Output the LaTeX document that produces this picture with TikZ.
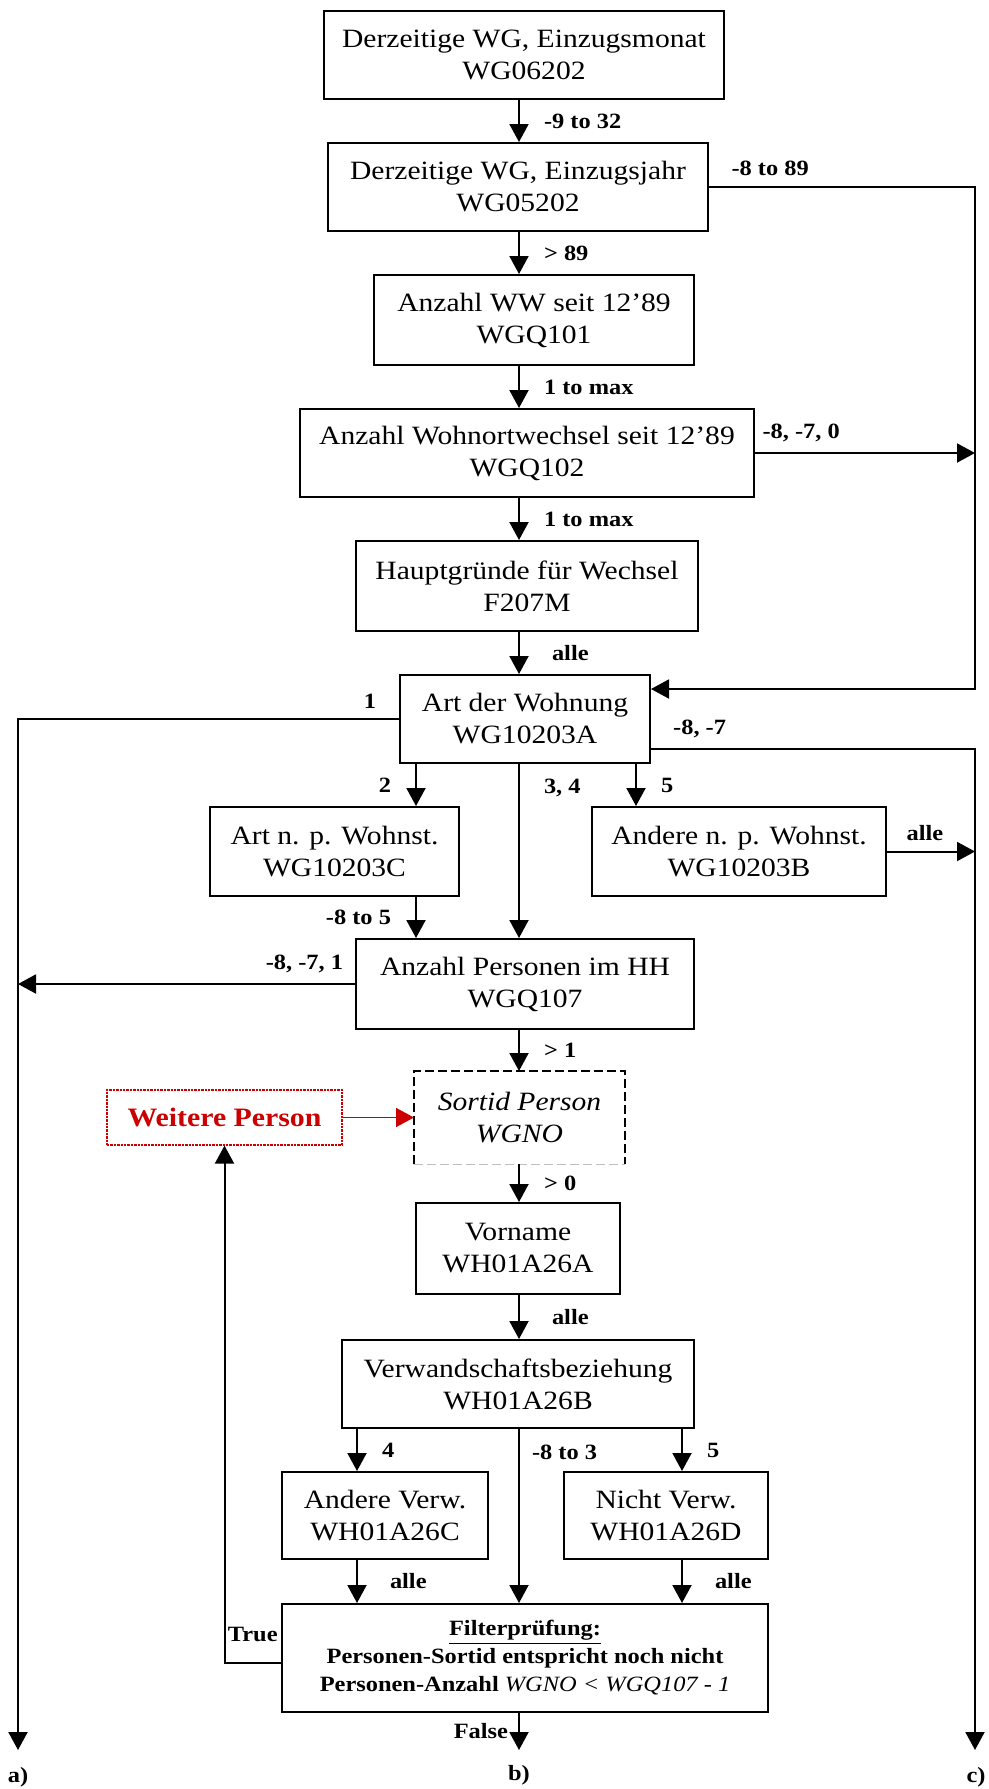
\documentclass[tikz,border=0pt]{standalone}
\usepackage{fontspec}
\setmainfont{Liberation Serif}[FakeStretch=1.12]
\usepackage{tikz}
\usetikzlibrary{arrows.meta}
\usetikzlibrary{calc}
\definecolor{wred}{RGB}{204,0,0}
\newcommand{\boxfont}{\fontsize{13.2}{16}\selectfont}
\newcommand{\lblfont}{\fontsize{10.9}{14}\selectfont\bfseries}

\begin{document}
\begin{tikzpicture}[x=0.5pt,y=-0.5pt,
    box/.style={draw, line width=1pt, align=center, font=\boxfont, inner sep=0pt},
    arr/.style={line width=1pt, -{Triangle[length=9pt,width=9.5pt]}},
    lbl/.style={font=\lblfont, inner sep=0pt},
    lr/.style={lbl, right, xshift=12pt},
    ll/.style={lbl, left, xshift=-12pt},
    la/.style={lbl, above, yshift=5pt}]
        \useasboundingbox (0,0) rectangle (989,1789);
        % columns and bus lines
        \coordinate (sp) at (519,0);
        \coordinate (xa) at (416,0);
        \coordinate (xb) at (636,0);
        \coordinate (xc) at (357,0);
        \coordinate (xd) at (682,0);
        \coordinate (lx) at (18,0);
        \coordinate (rx) at (975,0);
        \coordinate (rin) at (975,689);
        \coordinate (r8) at (975,749);
        \coordinate (bot) at (0,1750);
        % boxes
        \node[box, minimum width=200pt, minimum height=44pt] (b1) at (524,55) {Derzeitige WG, Einzugsmonat\\WG06202};
        \node[box, minimum width=190pt, minimum height=44pt] (b2) at (518,187) {Derzeitige WG, Einzugsjahr\\WG05202};
        \node[box, minimum width=160pt, minimum height=45pt] (b3) at (534,320) {Anzahl WW seit 12’89\\WGQ101};
        \node[box, minimum width=227pt, minimum height=44pt] (b4) at (527,453) {Anzahl Wohnortwechsel seit 12’89\\WGQ102};
        \node[box, minimum width=171pt, minimum height=45pt] (b5) at (527,586) {Hauptgründe für Wechsel\\F207M};
        \node[box, minimum width=125pt, minimum height=44pt] (b6) at (525,719) {Art der Wohnung\\WG10203A};
        \node[box, minimum width=124.5pt, minimum height=44.5pt] (b7) at (334.5,851.5) {Art n. p. Wohnst.\\WG10203C};
        \node[box, minimum width=147pt, minimum height=44.5pt] (b8) at (739,851.5) {Andere n. p. Wohnst.\\WG10203B};
        \node[box, minimum width=169pt, minimum height=45pt] (b9) at (525,984) {Anzahl Personen im HH\\WGQ107};
        \node[box, draw=none, font=\boxfont\itshape, minimum width=104.5pt, minimum height=45.5pt] (b10) at (519.5,1117.5) {Sortid Person\\WGNO};
        \draw[line width=1.2pt, dash pattern=on 4.5pt off 2pt] (b10.south west) -- (b10.north west) -- (b10.north east) -- (b10.south east);
        \draw[gray!50, line width=0.5pt, dash pattern=on 4.5pt off 2pt] (b10.south west) -- (b10.south east);
        \node[box, draw=wred, line width=0.6pt, dash pattern=on 1.2pt off 0.5pt, text=wred, font=\fontsize{13.3}{16}\selectfont\bfseries, minimum width=117.5pt, minimum height=27.5pt] (wp) at (224.5,1117.5) {Weitere Person};
        \node[box, minimum width=102pt, minimum height=45.5pt] (b11) at (518,1248.5) {Vorname\\WH01A26A};
        \node[box, minimum width=176pt, minimum height=44pt] (b12) at (518,1384) {Verwandschaftsbeziehung\\WH01A26B};
        \node[box, minimum width=103pt, minimum height=43.5pt] (b13) at (385,1515.5) {Andere Verw.\\WH01A26C};
        \node[box, minimum width=102pt, minimum height=43.5pt] (b14) at (666,1515.5) {Nicht Verw.\\WH01A26D};
        \node[box, font=\lblfont, minimum width=243pt, minimum height=54pt] (b15) at (525,1658) {\underline{Filterprüfung:}\\Personen-Sortid entspricht noch nicht\\Personen-Anzahl \textit{\mdseries WGNO < WGQ107 - 1}};
        % connectors
        \draw[arr] (b1.south -| sp) -- node[lr] (l1) {-9 to 32} (b2.north -| sp);
        \draw[arr] (b2.east) -- node[la, pos=.23] (l2) {-8 to 89} (b2.east -| rx) -- (rin) -- (rin -| b6.east);
        \draw[arr] (b2.south -| sp) -- node[lr] (l3) {> 89} (b3.north -| sp);
        \draw[arr] (b3.south -| sp) -- node[lr] (l4) {1 to max} (b4.north -| sp);
        \draw[arr] (b4.east) -- node[la, pos=.21] (l5) {-8, -7, 0} (b4.east -| rx);
        \draw[arr] (b4.south -| sp) -- node[lr] (l6) {1 to max} (b5.north -| sp);
        \draw[arr] (b5.south -| sp) -- node[lr, xshift=4pt] (l7) {alle} (b6.north -| sp);
        \draw[arr] (b6.west) -- node[la, pos=.076] (l8) {1} (b6.west -| lx) -- (lx |- bot);
        \draw[arr] (b6.east |- r8) -- node[la, pos=.15] (l9) {-8, -7} (r8) -- (rx |- bot);
        \draw[arr] (b6.south -| xa) -- node[ll] (l10) {2} (b7.north -| xa);
        \draw[arr] (b6.south -| sp) -- node[lr, pos=.14] (l11) {3, 4} (b9.north -| sp);
        \draw[arr] (b6.south -| xb) -- node[lr] (l12) {5} (b8.north -| xb);
        \draw[arr] (b8.east) -- node[la, pos=.43] (l13) {alle} (b8.east -| rx);
        \draw[arr] (b7.south -| xa) -- node[ll] (l14) {-8 to 5} (b9.north -| xa);
        \draw[arr] (b9.west) -- node[la, pos=.15] (l15) {-8, -7, 1} (b9.west -| lx);
        \draw[arr] (b9.south -| sp) -- node[lr] (l16) {> 1} (b10.north -| sp);
        \draw[arr, wred, line width=0.8pt] (wp.east) -- (b10.west);
        \draw[arr] (b10.south -| sp) -- node[lr] (l17) {> 0} (b11.north -| sp);
        \draw[arr] (b11.south -| sp) -- node[lr, xshift=4pt] (l18) {alle} (b12.north -| sp);
        \draw[arr] (b12.south -| xc) -- node[lr] (l19) {4} (b13.north -| xc);
        \draw[arr] (b12.south -| sp) -- node[lr, pos=.136, xshift=-6pt] (l20) {-8 to 3} (b15.north -| sp);
        \draw[arr] (b12.south -| xd) -- node[lr] (l21) {5} (b14.north -| xd);
        \draw[arr] (b13.south -| xc) -- node[lr, xshift=4pt] (l22) {alle} (b15.north -| xc);
        \draw[arr] (b14.south -| xd) -- node[lr, xshift=4pt] (l23) {alle} (b15.north -| xd);
        \draw[arr] ([yshift=-2.5pt]b15.west) -| node[la, pos=.25, yshift=5pt] (l24) {True} (wp.south);
        \draw[arr] (b15.south -| sp) -- node[ll, xshift=7pt] (l25) {False} (sp |- bot);
        % exits
        \node[lbl] (ea) at (18,1777) {a)};
        \node[lbl] (eb) at (519,1775) {b)};
        \node[lbl] (ec) at (976,1777) {c)};
\end{tikzpicture}
\end{document}
